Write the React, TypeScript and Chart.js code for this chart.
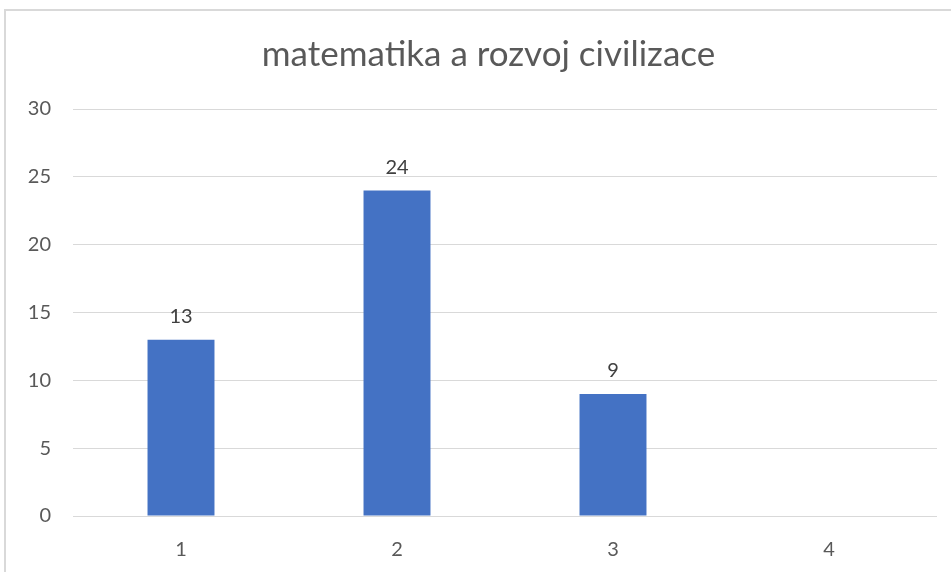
import React, { useEffect, useRef } from "react";
import { Chart, registerables } from "chart.js";

Chart.register(...registerables);

const title = "matematika a rozvoj civilizace";
const categories = ["1", "2", "3", "4"];
const values: (number | null)[] = [13, 24, 9, null];
const yTicks = [0, 5, 10, 15, 20, 25, 30];

const FONT = "Lato, 'Open Sans', sans-serif";

const valueLabels = {
  id: "valueLabels",
  afterDatasetsDraw(chart: any) {
    const ctx = chart.ctx;
    const meta = chart.getDatasetMeta(0);
    ctx.save();
    ctx.font = `20px ${FONT}`;
    ctx.fillStyle = "#404040";
    ctx.textAlign = "center";
    ctx.textBaseline = "bottom";
    meta.data.forEach((el: any, i: number) => {
      const v = values[i];
      if (v === null || v === undefined) return;
      ctx.fillText(String(v), el.x, el.y - 13);
    });
    ctx.restore();
  },
};

// Title drawn centred on the (wider) chart frame, which extends past the right edge
const frameTitle = {
  id: "frameTitle",
  afterDraw(chart: any) {
    const ctx = chart.ctx;
    const area = chart.chartArea;
    ctx.save();
    ctx.font = `35px ${FONT}`;
    ctx.fillStyle = "#595959";
    ctx.textAlign = "center";
    ctx.textBaseline = "middle";
    ctx.fillText(title, (area.left + area.right) / 2 - 16.5, area.top - 54);
    ctx.restore();
  },
};

export default function App() {
  const ref = useRef<HTMLCanvasElement>(null);
  useEffect(() => {
    if (!ref.current) return;
    const chart = new Chart(ref.current, {
      type: "bar",
      data: {
        labels: categories,
        datasets: [
          {
            data: values as any,
            backgroundColor: "#4472c4",
            categoryPercentage: 1,
            barPercentage: 0.31,
          },
        ],
      },
      options: {
        responsive: false,
        animation: false,
        layout: { padding: { left: 0, right: 14, top: 109, bottom: 0 } },
        plugins: {
          legend: { display: false },
          tooltip: { enabled: false },
          title: { display: false },
        },
        scales: {
          x: {
            grid: { display: false, drawTicks: false },
            border: { display: false },
            ticks: {
              color: "#595959",
              font: { family: FONT, size: 20 },
              padding: 22,
            },
            afterFit: (s: any) => {
              s.height = 56;
            },
          },
          y: {
            min: 0,
            max: 30,
            afterBuildTicks: (s: any) => {
              s.ticks = yTicks.map((v) => ({ value: v }));
            },
            grid: { color: "#d9d9d9", lineWidth: 1, drawTicks: false },
            border: { display: false },
            ticks: {
              color: "#595959",
              font: { family: FONT, size: 20 },
              padding: 22,
            },
            afterFit: (s: any) => {
              s.width = 73;
            },
          },
        },
      },
      plugins: [valueLabels, frameTitle],
    });
    return () => chart.destroy();
  }, []);
  return (
    <div
      style={{
        position: "fixed",
        left: 0,
        top: 0,
        width: 951,
        height: 572,
        background: "#fff",
      }}
    >
      <div
        style={{
          position: "absolute",
          left: 4,
          top: 9,
          width: 960,
          height: 600,
          borderLeft: "2px solid #d9d9d9",
          borderTop: "2px solid #d9d9d9",
        }}
      />
      <canvas
        ref={ref}
        width={951}
        height={572}
        style={{ position: "absolute", left: 0, top: 0 }}
      />
    </div>
  );
}
